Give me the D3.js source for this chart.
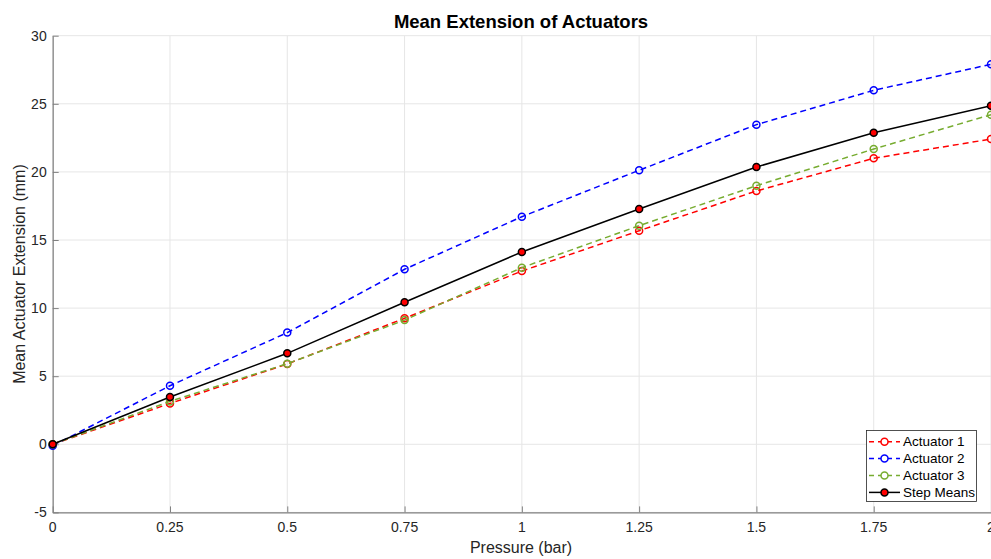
<!DOCTYPE html>
<html>
<head>
<meta charset="utf-8">
<script src="https://cdn.jsdelivr.net/npm/d3@7"></script>
<style>
  body { margin: 0; background: #fff; }
  svg { display: block; font-family: "Liberation Sans", Arial, sans-serif; }
</style>
</head>
<body>
<svg width="991" height="559"></svg>
<script>
// pressure steps (bar)
var pressure = [0, 0.25, 0.5, 0.75, 1, 1.25, 1.5, 1.75, 2];
var actuator1 = [0, 3.0, 5.9, 9.25, 12.72, 15.68, 18.6, 21.0, 22.41];
var actuator2 = [-0.1, 4.3, 8.2, 12.85, 16.71, 20.12, 23.47, 25.99, 27.9];
var actuator3 = [0, 3.15, 5.92, 9.12, 12.97, 16.05, 18.99, 21.68, 24.2];
var stepMeans = [0, 3.47, 6.68, 10.43, 14.12, 17.28, 20.36, 22.88, 24.86];
var xTicks = [0, 0.25, 0.5, 0.75, 1, 1.25, 1.5, 1.75, 2];
var xTickLabels = ['0', '0.25', '0.5', '0.75', '1', '1.25', '1.5', '1.75', '2'];
var yTicks = [-5, 0, 5, 10, 15, 20, 25, 30];

(function() {
var svg = d3.select('svg');
var mLeft = 52.7, mRight = 991, mTop = 35.7, mBottom = 512.4;

var x = d3.scaleLinear().domain([0, 2]).range([mLeft, mRight]);
var y = d3.scaleLinear().domain([-5, 30]).range([mBottom, mTop]);

// grid
svg.append('g').selectAll('line').data(xTicks).enter()
    .append('line')
    .attr('x1', function(d) { return x(d); })
    .attr('x2', function(d) { return x(d); })
    .attr('y1', mTop).attr('y2', mBottom)
    .style('stroke', '#e6e6e6').style('stroke-width', 1);
svg.append('g').selectAll('line').data(yTicks).enter()
    .append('line')
    .attr('x1', mLeft).attr('x2', mRight)
    .attr('y1', function(d) { return y(d); })
    .attr('y2', function(d) { return y(d); })
    .style('stroke', '#e6e6e6').style('stroke-width', 1);

// axes (ticks pointing inward like matlab)
var xAxis = d3.axisTop(x).tickValues(xTicks).tickSize(6).tickSizeOuter(0).tickFormat('');
var gx = svg.append('g').attr('transform', 'translate(0,' + mBottom + ')').call(xAxis);
var yAxis = d3.axisRight(y).tickValues(yTicks).tickSize(6).tickSizeOuter(0).tickFormat('');
var gy = svg.append('g').attr('transform', 'translate(' + mLeft + ',0)').call(yAxis);
[gx, gy].forEach(function(g) {
    g.select('.domain').style('stroke', '#808080').style('stroke-width', 1.2);
    g.selectAll('.tick line').style('stroke', '#808080');
});

svg.append('g').selectAll('text').data(xTicks).enter()
    .append('text')
    .attr('x', function(d) { return x(d); })
    .attr('y', mBottom + 20)
    .attr('text-anchor', 'middle')
    .style('font-size', '14px').style('fill', '#262626')
    .text(function(d, i) { return xTickLabels[i]; });
svg.append('g').selectAll('text').data(yTicks).enter()
    .append('text')
    .attr('x', mLeft - 6)
    .attr('y', function(d) { return y(d) + 5; })
    .attr('text-anchor', 'end')
    .style('font-size', '14px').style('fill', '#262626')
    .text(function(d) { return d; });

// labels
svg.append('text').attr('x', 521).attr('y', 28).attr('text-anchor', 'middle')
    .style('font-size', '18.5px').style('font-weight', 'bold').style('fill', '#000')
    .text('Mean Extension of Actuators');
svg.append('text').attr('x', 521).attr('y', 553).attr('text-anchor', 'middle')
    .style('font-size', '16px').style('fill', '#262626')
    .text('Pressure (bar)');
svg.append('text')
    .attr('transform', 'translate(25,' + ((mTop + mBottom) / 2) + ') rotate(-90)')
    .attr('text-anchor', 'middle')
    .style('font-size', '16px').style('fill', '#262626')
    .text('Mean Actuator Extension (mm)');

var series = [
    { name: 'Actuator 1', values: actuator1, color: '#ff0000', dash: '6,4', fill: 'none', stroke: '#ff0000' },
    { name: 'Actuator 2', values: actuator2, color: '#0000ff', dash: '6,4', fill: 'none', stroke: '#0000ff' },
    { name: 'Actuator 3', values: actuator3, color: '#77ac30', dash: '6,4', fill: 'none', stroke: '#77ac30' },
    { name: 'Step Means', values: stepMeans, color: '#000000', dash: null, fill: '#ff0000', stroke: '#000000' }
];

var line = d3.line()
    .x(function(d) { return x(d[0]); })
    .y(function(d) { return y(d[1]); });

series.forEach(function(s) {
    var pts = pressure.map(function(p, i) { return [p, s.values[i]]; });
    svg.append('path')
        .attr('d', line(pts))
        .style('fill', 'none')
        .style('stroke', s.color)
        .style('stroke-width', 1.5)
        .style('stroke-dasharray', s.dash);
    svg.append('g').selectAll('circle').data(pts).enter()
        .append('circle')
        .attr('cx', function(d) { return x(d[0]); })
        .attr('cy', function(d) { return y(d[1]); })
        .attr('r', 3.5)
        .style('fill', s.fill)
        .style('stroke', s.stroke)
        .style('stroke-width', 1.5);
});

// legend
var lg = svg.append('g');
lg.append('rect').attr('x', 866.5).attr('y', 430.5).attr('width', 110).attr('height', 71)
    .style('fill', '#fff').style('stroke', '#262626').style('stroke-width', 0.8);
series.forEach(function(s, i) {
    var ly = 441.7 + i * 16.9;
    lg.append('line').attr('x1', 869).attr('x2', 900).attr('y1', ly).attr('y2', ly)
        .style('stroke', s.color).style('stroke-width', 1.5)
        .style('stroke-dasharray', s.dash ? '5,4' : null);
    lg.append('circle').attr('cx', 884.5).attr('cy', ly).attr('r', 3.5)
        .style('fill', s.fill === 'none' ? '#fff' : s.fill)
        .style('stroke', s.stroke).style('stroke-width', 1.5);
    lg.append('text').attr('x', 903).attr('y', ly + 4.5)
        .style('font-size', '13.5px').style('fill', '#000')
        .text(s.name);
});
})();
</script>
</body>
</html>
